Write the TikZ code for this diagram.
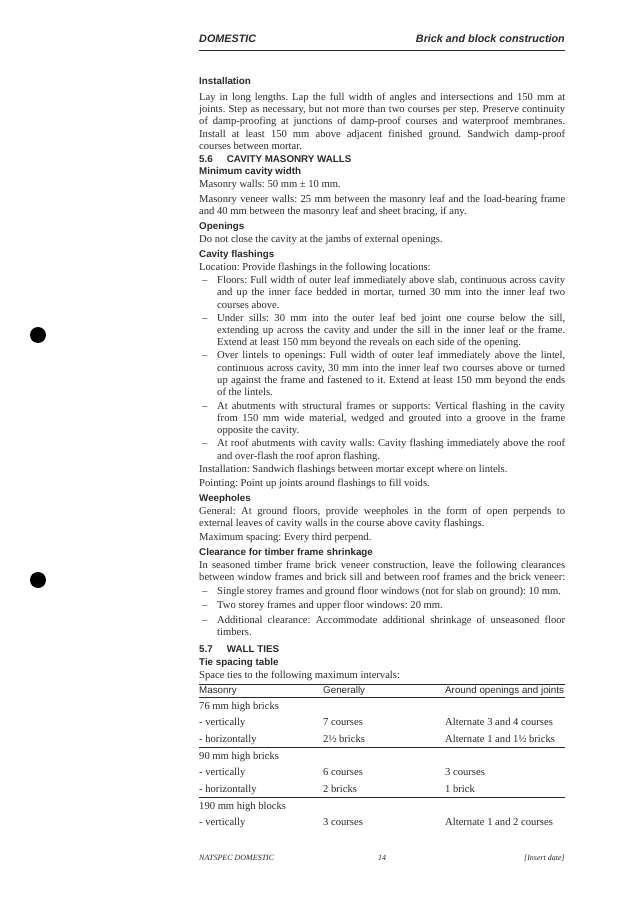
\documentclass[tikz,border=0pt]{standalone}
\usepackage{fontspec}
\setmainfont{Liberation Serif}
\newfontfamily\hsans{Liberation Sans}
\definecolor{ink}{HTML}{2A2A2A}
\frenchspacing
\newcommand{\bfs}{\fontsize{10.6}{12}\selectfont}
\newcommand{\hfs}{\fontsize{9.8}{12}\selectfont\hsans\bfseries}
\newcommand{\J}[2]{\node[anchor=base west,inner sep=0] at (199,#1+3.5) {\bfs\makebox[366pt][s]{#2}};}
\newcommand{\Lt}[2]{\node[anchor=base west,inner sep=0] at (199,#1+3.5) {\bfs #2};}
\newcommand{\Hd}[2]{\node[anchor=base west,inner sep=0] at (199,#1+3.5) {\hfs #2};}
\newcommand{\BJ}[2]{\node[anchor=base west,inner sep=0] at (217,#1+3.5) {\bfs\makebox[348pt][s]{#2}};}
\newcommand{\BL}[2]{\node[anchor=base west,inner sep=0] at (217,#1+3.5) {\bfs #2};}
\newcommand{\Ds}[1]{\node[anchor=base west,inner sep=0] at (202,#1+3.5) {\bfs --};}
\newcommand{\Tc}[3]{\node[anchor=base west,inner sep=0] at (#1,#2+3.5) {\bfs #3};}
\newcommand{\Ts}[3]{\node[anchor=base west,inner sep=0] at (#1,#2+3.5) {\fontsize{9.8}{11}\selectfont\hsans #3};}
\begin{document}
\begin{tikzpicture}[x=1pt,y=-1pt,every node/.style={text=ink}]
\useasboundingbox[fill=white] (0,0) rectangle (637,912);
\fill[black] (38,335) circle (8);
\fill[black] (38,580) circle (8);
% header
\node[anchor=base west,inner sep=0] at (199,43) {\fontsize{10.8}{12}\selectfont\hsans\bfseries\itshape DOMESTIC};
\node[anchor=base east,inner sep=0] at (565,43) {\fontsize{10.8}{12}\selectfont\hsans\bfseries\itshape Brick and block construction};
\draw[ink,line width=0.8] (199,50) -- (565,50);
\Hd{81}{Installation}
\J{97}{Lay in long lengths. Lap the full width of angles and intersections and 150 mm at}
\J{109}{joints. Step as necessary, but not more than two courses per step. Preserve continuity}
\J{121}{of damp-proofing at junctions of damp-proof courses and waterproof membranes.}
\J{134}{Install at least 150 mm above adjacent finished ground. Sandwich damp-proof}
\Lt{146}{courses between mortar.}
\Hd{159}{5.6\hspace{14pt}CAVITY MASONRY WALLS}
\Hd{171}{Minimum cavity width}
\Lt{184}{Masonry walls: 50 mm ± 10 mm.}
\J{199}{Masonry veneer walls: 25 mm between the masonry leaf and the load-bearing frame}
\Lt{211}{and 40 mm between the masonry leaf and sheet bracing, if any.}
\Hd{226}{Openings}
\Lt{239}{Do not close the cavity at the jambs of external openings.}
\Hd{254}{Cavity flashings}
\Lt{267}{Location: Provide flashings in the following locations:}
\Ds{280}
\BJ{280}{Floors: Full width of outer leaf immediately above slab, continuous across cavity}
\BJ{292}{and up the inner face bedded in mortar, turned 30 mm into the inner leaf two}
\BL{305}{courses above.}
\Ds{318}
\BJ{318}{Under sills: 30 mm into the outer leaf bed joint one course below the sill,}
\BJ{330}{extending up across the cavity and under the sill in the inner leaf or the frame.}
\BL{342}{Extend at least 150 mm beyond the reveals on each side of the opening.}
\Ds{355}
\BJ{355}{Over lintels to openings: Full width of outer leaf immediately above the lintel,}
\BJ{368}{continuous across cavity, 30 mm into the inner leaf two courses above or turned}
\BJ{380}{up against the frame and fastened to it. Extend at least 150 mm beyond the ends}
\BL{392}{of the lintels.}
\Ds{406}
\BJ{406}{At abutments with structural frames or supports: Vertical flashing in the cavity}
\BJ{418}{from 150 mm wide material, wedged and grouted into a groove in the frame}
\BL{430}{opposite the cavity.}
\Ds{443}
\BJ{443}{At roof abutments with cavity walls: Cavity flashing immediately above the roof}
\BL{456}{and over-flash the roof apron flashing.}
\Lt{469}{Installation: Sandwich flashings between mortar except where on lintels.}
\Lt{483}{Pointing: Point up joints around flashings to fill voids.}
\Hd{498}{Weepholes}
\J{511}{General: At ground floors, provide weepholes in the form of open perpends to}
\Lt{523}{external leaves of cavity walls in the course above cavity flashings.}
\Lt{537}{Maximum spacing: Every third perpend.}
\Hd{552}{Clearance for timber frame shrinkage}
\J{565}{In seasoned timber frame brick veneer construction, leave the following clearances}
\J{577}{between window frames and brick sill and between roof frames and the brick veneer:}
\Ds{591}
\BL{591}{Single storey frames and ground floor windows (not for slab on ground): 10 mm.}
\Ds{605}
\BL{605}{Two storey frames and upper floor windows: 20 mm.}
\Ds{620}
\BJ{620}{Additional clearance: Accommodate additional shrinkage of unseasoned floor}
\BL{632}{timbers.}
\Hd{649}{5.7\hspace{14pt}WALL TIES}
\Hd{662}{Tie spacing table}
\Lt{675}{Space ties to the following maximum intervals:}
\draw[ink,line width=0.7] (199,684) -- (565,684);
\Ts{199}{690}{Masonry}
\Ts{323}{690}{Generally}
\Ts{445}{690}{Around openings and joints}
\draw[ink,line width=0.7] (199,697) -- (565,697);
\Tc{199}{706}{76 mm high bricks}
\Tc{199}{722}{- vertically}\Tc{323}{722}{7 courses}\Tc{445}{722}{Alternate 3 and 4 courses}
\Tc{199}{739}{- horizontally}\Tc{323}{739}{2½ bricks}\Tc{445}{739}{Alternate 1 and 1½ bricks}
\draw[ink,line width=0.7] (199,747) -- (565,747);
\Tc{199}{756}{90 mm high bricks}
\Tc{199}{772}{- vertically}\Tc{323}{772}{6 courses}\Tc{445}{772}{3 courses}
\Tc{199}{789}{- horizontally}\Tc{323}{789}{2 bricks}\Tc{445}{789}{1 brick}
\draw[ink,line width=0.7] (199,797) -- (565,797);
\Tc{199}{806}{190 mm high blocks}
\Tc{199}{822}{- vertically}\Tc{323}{822}{3 courses}\Tc{445}{822}{Alternate 1 and 2 courses}
% footer
\node[anchor=base west,inner sep=0] at (199,860) {\fontsize{8}{9}\selectfont\itshape NATSPEC DOMESTIC};
\node[anchor=base,inner sep=0] at (382,860) {\fontsize{8}{9}\selectfont\itshape 14};
\node[anchor=base east,inner sep=0] at (565,860) {\fontsize{8}{9}\selectfont\itshape [Insert date]};
\end{tikzpicture}
\end{document}
